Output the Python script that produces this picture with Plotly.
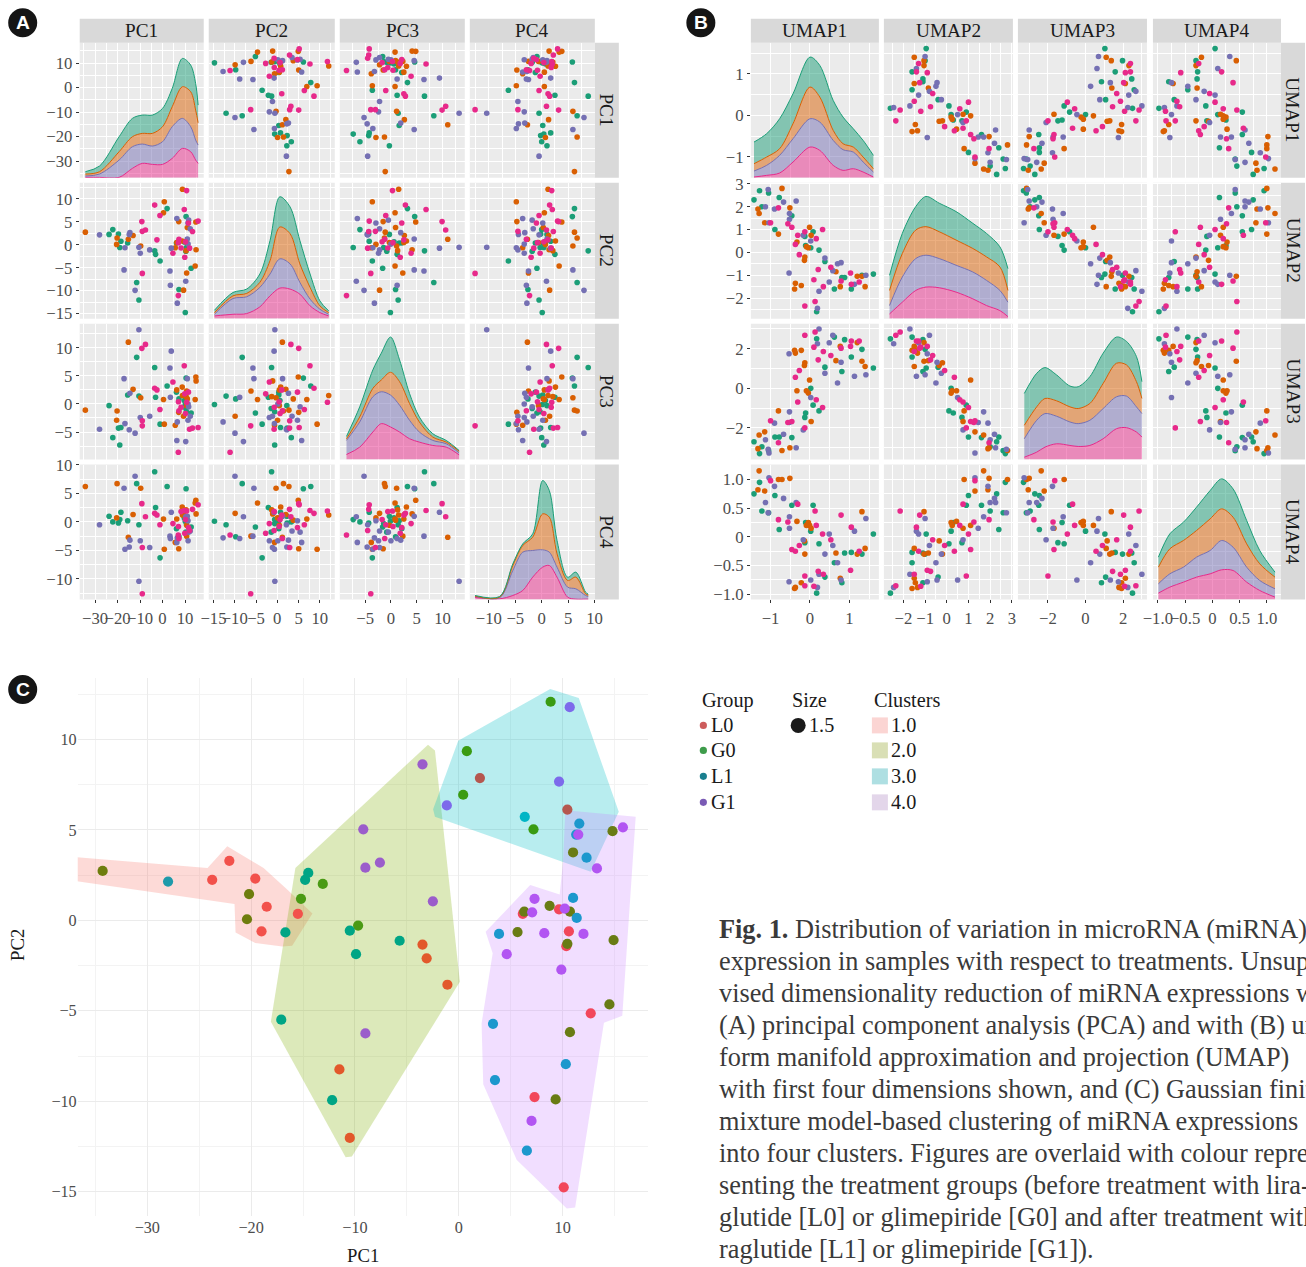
import plotly.graph_objects as go

W, H = 1306, 1267
SERIF = "Liberation Serif"
SANS = "Liberation Sans"

# ---------------- data (samples ordered by group) ----------------
group = [
    "L0", "L0", "L0", "L0", "L0", "L0", "L0", "L0", "L0", "L0",
    "L0", "L0", "L0", "L0", "L0", "L0", "L0", "L0", "L0", "L0",
    "G0", "G0", "G0", "G0", "G0", "G0", "G0", "G0", "G0", "G0",
    "G0", "G0", "G0", "G0", "G0", "G0", "G0", "G0", "G0", "G0", "G0",
    "L1", "L1", "L1", "L1", "L1", "L1", "L1", "L1", "L1", "L1",
    "L1", "L1", "L1", "L1", "L1", "L1", "L1", "L1", "L1", "L1",
    "G1", "G1", "G1", "G1", "G1", "G1", "G1", "G1", "G1", "G1",
    "G1", "G1", "G1", "G1", "G1", "G1", "G1", "G1", "G1", "G1",
]
cluster = [
    1, 1, 1, 1, 1, 1, 2, 2, 2, 2, 2, 3, 3, 4, 4, 4, 4, 4, 4, 4,
    1, 1, 1, 2, 2, 2, 3, 3, 3, 3, 4, 4, 4, 4, 4, 4, 4, 4, 4, 4, 4,
    1, 2, 2, 2, 2, 2, 2, 2, 2, 3, 4, 4, 4, 4, 4, 4, 4, 4, 4, 4,
    2, 2, 2, 2, 2, 2, 3, 3, 3, 4, 4, 4, 4, 4, 4, 4, 4, 4, 4, 4,
]
pc1 = [
    -23.75, -22.1, -19.6, -18.5, -19.0, -15.5, -3.5, -3.1, -1.1, -11.5,
    -10.5, 2.03, 10.45, 6.16, 9.65, 10.6, 10.35, 12.7, 7.29, 10.1,
    -34.3, -20.2, -20.4, -15.2, -13.1, -9.7, 8.84, 0.77, 0.42, 7.19,
    14.8, 11.0, 8.74, 6.3, 10.7, 5.65, 10.45, 14.9, 14.5, 10.7, 9.32,
    -28.0, -16.7, -14.5, -14.8, -17.1, -12.2, -10.5, -9.9, -5.7, 6.35,
    11.6, 11.3, 12.3, 11.0, 11.35, 3.87, 3.29, 10.3, 3.48, 6.55,
    -3.5, -9.2, -9.0, -7.6, -2.5, -9.0, 10.68, -1.16, 9.65, 11.5,
    15.8, 13.3, 7.29, 7.06, 10.2, 8.23, 12.0, 4.61, 9.87, 7.0,
]
pc2 = [
    2.24, 3.29, 2.31, 0.75, -0.61, 0.36, -1.34, -2.10, -3.56, -8.24,
    -12.03, 7.86, 6.12, 0.36, 0.61, -0.61, -1.43, -5.14, -9.77, -14.76,
    2.73, 1.45, 0.06, 1.19, 2.01, -0.29, 12.08, 9.35, 6.94, 5.03,
    4.93, 3.75, 0.80, 0.48, 0.48, -0.65, -1.30, -1.09, -4.65, -6.18, -9.90,
    2.14, -0.67, 2.62, 2.24, -5.49, -9.94, -0.57, -1.87, -1.13, 5.72,
    5.35, 4.74, 3.46, 1.24, 0.13, -0.75, -5.72, -7.95, -8.83, -12.73,
    8.62, 5.03, 2.91, 3.19, 1.05, -6.25, 11.78, 6.35, 7.67, 4.74,
    5.14, 2.87, 1.19, 0.44, 0.65, -0.71, -0.75, -1.87, -2.73, -11.09,
]
pc3 = [
    -0.3, -6.0, -4.3, -4.2, -7.3, 1.6, 6.5, 1.2, -3.6, 8.3,
    1.4, 3.2, 4.6, 2.1, 0.6, -1.4, -0.8, -1.6, 0.9, -0.1,
    -1.1, -1.25, -2.9, 11.0, 2.6, 1.1, 1.5, -3.6, 0.8, -1.5,
    4.8, 0.9, 3.0, 2.5, -0.3, -3.8, 1.3, 4.1, 0.8, 2.3, -2.2,
    -4.5, -3.5, 1.9, -4.6, 4.5, -5.2, 13.2, -2.4, -2.2, -6.5,
    -0.5, -2.9, -2.2, 4.5, 0.0, 9.4, 6.4, -6.7, 1.2, -3.2,
    2.8, 9.9, -3.0, 10.6, 2.5, -3.9, 0.3, -1.0, 6.8, 2.1,
    -4.2, -4.3, -1.2, 0.4, -1.7, -0.6, -4.5, 3.9, 1.8, -8.6,
]
pc4 = [
    1.0, 0.0, -0.2, 1.7, 0.4, 0.2, 8.8, 2.5, -6.3, 6.7,
    -0.5, 6.2, 5.8, -1.2, 0.7, -0.3, -1.8, -0.9, -2.6, 0.1,
    6.2, 6.7, 0.7, -2.7, 1.3, 5.9, 1.2, -4.8, 0.5, -4.7,
    3.8, 0.3, 2.6, 0.5, -0.6, -3.6, 2.1, 1.4, 3.3, -2.5, 1.5,
    -0.5, -4.8, -3.2, -4.4, 5.9, 8.0, -10.4, -3.3, -4.5, -3.6,
    -1.8, 0.2, -1.6, 1.0, -3.3, 1.7, -2.5, 0.9, -2.9, -2.8,
    1.5, 3.2, -4.5, 0.9, 1.2, -12.6, 1.9, -0.5, 2.0, -1.0,
    3.0, 2.2, -2.9, -0.8, 0.4, 1.8, -1.5, -0.3, -2.0, -2.3,
]
umap1 = [
    -1.42, -1.28, -1.22, -1.05, -0.89, -0.78, -0.46, -0.11, -0.13, 0.02,
    0.08, 0.17, 0.38, 0.62, 0.81, 0.88, 1.05, 1.32, 1.61, 0.23,
    -1.32, -1.29, -1.15, -0.71, -0.51, -0.37, -0.39, -0.22, -0.14, -0.13,
    -0.09, -0.04, -0.01, 0.03, 0.77, 1.2, 1.32, 1.4, -0.33, -0.8, 0.66,
    -1.13, -1.06, -1.04, -0.9, -0.67, -0.52, -0.52, -0.35, -0.53, -0.17,
    0.19, 0.23, 0.38, 0.49, 0.58, 0.7, 0.79, 1.13, 1.42, 0.02,
    -1.0, -0.56, -0.46, -0.31, -0.27, -0.13, -0.13, 0.1, 0.13, 0.16,
    0.21, 0.32, 0.34, 0.79, 1.05, 1.03, 1.25, -0.8, 0.53, -0.37,
]
umap2 = [
    2.3, 2.7, 2.0, 2.6, 1.0, 2.4, 1.6, 0.3, 0.7, 0.2,
    0.9, -2.6, -0.4, -1.6, -1.1, -1.1, -1.6, -1.0, -0.95, 0.1,
    1.9, 1.7, 1.3, 2.8, 1.95, -1.35, -1.6, -1.45, -0.35, -0.2,
    0.25, 0.2, 1.1, 0.75, -1.5, -1.05, -1.05, -1.5, 0.45, 0.8, -0.85,
    2.0, 2.75, 1.3, 1.9, 2.2, 1.45, 1.7, 2.25, -0.9, 0.75,
    -2.45, -1.7, -0.25, -1.3, -0.8, -0.5, -0.45, -1.4, -1.0, 0.5,
    1.3, 1.25, 1.1, 0.75, -0.1, 0.9, -2.35, -1.2, -2.15, 0.6,
    -0.75, 1.0, -1.5, -1.25, -1.4, -0.9, -1.3, 1.95, -0.65, 0.35,
]
umap3 = [
    -2.7, -3.3, -2.95, -3.15, -2.46, -2.46, -2.49, -1.25, -1.47, 0.0,
    -0.85, 2.5, 1.07, 2.59, 0.85, 2.46, 1.58, 1.97, 1.03, -1.14,
    -3.05, -2.36, -2.2, -3.14, -3.0, 1.78, 1.92, 1.92, 1.15, 1.29,
    -0.12, -0.24, 0.42, -1.68, 2.12, 2.31, 1.37, 1.1, -0.12, -1.14, 1.4,
    -2.6, -3.08, -3.27, -1.76, -2.32, -1.73, -1.19, -3.0, 1.75, -2.1,
    2.25, 3.0, 0.76, 2.3, 2.68, 0.27, 1.32, 0.61, 0.69, -0.46,
    -1.64, -1.73, -1.68, -0.69, 0.9, -2.0, 2.68, 2.08, 2.85, -0.58,
    1.44, -0.97, 1.86, 2.03, 2.39, 2.12, 2.39, -2.75, 1.66, 0.56,
]
umap4 = [
    0.75, 0.95, 0.45, 0.42, 0.72, 0.13, 0.55, 0.25, -0.1, 0.1,
    0.55, -0.98, -0.7, -0.45, -0.8, -0.28, -0.27, -0.3, 0.05, -0.12,
    0.82, 1.15, 0.8, 1.0, 1.02, -0.88, -0.9, -0.8, -0.07, -0.3,
    0.2, 0.25, 0.2, 0.15, -0.72, -0.3, 0.44, -0.2, 0.27, 1.0, -0.28,
    0.6, 0.42, 1.03, 0.88, 0.67, 0.15, 0.35, 0.6, -0.78, -0.05,
    -0.88, -0.65, -0.3, 0.05, -0.15, -0.45, -0.75, 0.1, 0.32, -0.75,
    0.98, 0.26, -0.22, 0.57, -0.15, -0.68, -0.85, -0.86, 0.45, 0.2,
    -0.6, 0.05, -0.65, 0.38, 0.17, -0.58, -0.25, 0.3, -0.05, -0.25,
]

# stacked density curves (arbitrary units)
dens_PC1_x = [-34.3, -28.0, -19.3, -13.4, -9.0, -4.5, 0.0, 4.3, 8.8, 12.5, 14.7, 15.8]
dens_PC1 = {"G1": [1, 1, 1, 28, 43, 40, 40, 58, 88, 78, 53, 43],
            "L1": [4, 10, 52, 65, 58, 55, 68, 95, 90, 75, 60, 55],
            "G0": [6, 7, 25, 30, 32, 38, 45, 60, 95, 105, 90, 67],
            "L0": [7, 17, 45, 55, 55, 55, 55, 55, 85, 80, 80, 53]}
dens_PC2_x = [-14.76, -10.4, -7.2, -4.1, -1.7, 0.6, 3.0, 5.3, 7.7, 10.0, 12.08]
dens_PC2 = {"G1": [8, 13, 15, 35, 68, 91, 88, 73, 38, 18, 8],
            "L1": [5, 47, 50, 58, 65, 87, 75, 35, 20, 10, 5],
            "G0": [5, 8, 10, 15, 40, 95, 90, 55, 35, 10, 5],
            "L0": [7, 10, 13, 25, 60, 90, 80, 70, 40, 15, 5]}
dens_PC3_x = [-8.6, -6.04, -3.5, -1.86, -0.07, 1.67, 3.6, 5.5, 8.1, 10.7, 13.2]
dens_PC3 = {"G1": [15, 37, 82, 107, 97, 82, 62, 52, 42, 37, 14],
            "L1": [42, 75, 105, 95, 95, 80, 55, 30, 15, 10, 6],
            "G0": [5, 15, 25, 35, 68, 70, 50, 30, 10, 5, 5],
            "L0": [7, 30, 55, 80, 105, 65, 30, 15, 10, 5, 2]}
dens_PC4_x = [-12.6, -7.96, -5.46, -3.58, -1.7, 0.18, 1.44, 2.9, 4.9, 6.46, 8.3, 8.8]
dens_PC4 = {"G1": [6, 2, 12, 27, 67, 97, 102, 67, 7, 1, 1, 1],
            "L1": [3, 3, 75, 115, 80, 52, 40, 30, 30, 31, 11, 8],
            "G0": [1, 2, 15, 20, 40, 108, 105, 40, 20, 35, 5, 4],
            "L0": [2, 2, 5, 5, 10, 100, 80, 40, 10, 15, 5, 3]}
dens_U1_x = [-1.42, -1.1, -0.77, -0.43, 0.0, 0.25, 0.59, 0.84, 1.1, 1.35, 1.61]
dens_U1 = {"G1": [2, 7, 14, 47, 92, 82, 37, 22, 27, 17, 2],
           "L1": [18, 30, 53, 70, 85, 85, 75, 62, 50, 30, 15],
           "G0": [22, 25, 20, 45, 95, 75, 30, 18, 15, 15, 10],
           "L0": [65, 70, 90, 90, 90, 95, 90, 80, 55, 50, 40]}
dens_U2_x = [-2.64, -2.05, -1.43, -0.96, -0.35, 0.43, 1.2, 1.83, 2.45, 2.82]
dens_U2 = {"G1": [14, 49, 84, 94, 92, 79, 59, 39, 24, 6],
           "L1": [25, 75, 95, 95, 87, 80, 80, 75, 60, 43],
           "G0": [45, 70, 85, 85, 80, 75, 70, 70, 70, 35],
           "L0": [45, 60, 70, 90, 85, 85, 75, 70, 60, 65]}
dens_U3_x = [-3.26, -2.6, -2.16, -1.54, -0.83, -0.39, 0.23, 0.94, 1.65, 2.18, 2.71, 3.0]
dens_U3 = {"G1": [7, 22, 37, 47, 42, 39, 42, 62, 92, 95, 82, 67],
           "L1": [55, 95, 100, 82, 70, 68, 75, 90, 95, 94, 75, 70],
           "G0": [40, 40, 45, 46, 45, 45, 50, 75, 100, 93, 75, 45],
           "L0": [95, 100, 92, 77, 62, 65, 80, 90, 78, 70, 75, 50]}
dens_U4_x = [-0.99, -0.78, -0.53, -0.29, -0.04, 0.17, 0.38, 0.63, 0.87, 1.15]
dens_U4 = {"G1": [19, 37, 52, 67, 77, 89, 87, 52, 27, 7],
           "L1": [28, 40, 45, 60, 70, 88, 70, 45, 30, 25],
           "G0": [50, 75, 80, 80, 95, 95, 90, 70, 50, 35],
           "L0": [30, 45, 55, 70, 85, 90, 85, 70, 40, 15]}

# cluster hull outlines (PC1, PC2)
hull1_x = [-38.0, -24.2, -22.3, -18.8, -16.4, -14.1, -16.05, -17.0, -19.6, -21.5, -21.6, -38.0]
hull1_y = [3.55, 2.89, 4.09, 2.89, 1.64, 0.38, -1.40, -1.45, -1.26, -0.67, 0.90, 2.26]
hull2_x = [-15.74, -2.97, -2.3, 0.1, -10.3, -10.9, -18.1]
hull2_y = [2.89, 9.71, 9.39, -3.40, -13.05, -13.1, -5.6]
hull3_x = [-2.48, -0.06, 8.8, 11.55, 15.4, 12.7, 10.1, -2.3]
hull3_y = [6.14, 9.92, 12.79, 12.29, 6.0, 2.68, 3.21, 5.72]
hull4_x = [10.26, 17.03, 15.74, 13.97, 11.2, 10.4, 5.58, 2.35, 2.19, 3.26, 2.58, 6.87, 9.71, 10.03]
hull4_y = [6.08, 5.72, -5.28, -5.66, -15.87, -15.93, -13.25, -9.06, -5.70, -1.82, -0.63, 1.95, 1.43, 3.21]

GROUPS = ["L0", "G0", "L1", "G1"]
PCA_NAMES = ["PC1", "PC2", "PC3", "PC4"]
UMAP_NAMES = ["UMAP1", "UMAP2", "UMAP3", "UMAP4"]
PCA_TICKS = [[-30, -20, -10, 0, 10], [-15, -10, -5, 0, 5, 10], [-5, 0, 5, 10], [-10, -5, 0, 5, 10]]
UMAP_TICKS = [[-1, 0, 1], [-2, -1, 0, 1, 2, 3], [-2, 0, 2], [-1.0, -0.5, 0, 0.5, 1.0]]
UMAP_TICKTEXT = [["−1", "0", "1"], ["−2", "−1", "0", "1", "2", "3"], ["−2", "0", "2"],
                 ["−1.0", "−0.5", "0", "0.5", "1.0"]]

# ---------------- styling ----------------
# the page capture shrinks/offsets the figure slightly; map target pixel positions to paper coords
OX, SX, OY, SY = 10.3, 0.986, 8.2, 0.9895
FS = 1.012


def PX(x):
    return (x - OX) / SX / W


def PY(y):
    return 1 - (y - OY) / SY / H


PCA_RANGES = [[-36.8, 18.3], [-16.1, 13.5], [-9.9, 14.3], [-13.6, 10.05]]
UMAP_RANGES = [[-1.5, 1.75], [-2.9, 3.05], [-3.6, 3.27], [-1.09, 1.26]]
DARK2 = {"L0": "#1B9E77", "G0": "#D95F02", "L1": "#7570B3", "G1": "#E7298A"}
DFILL = {"L0": "rgba(27,158,119,0.5)", "G0": "rgba(217,95,2,0.5)",
         "L1": "rgba(117,112,179,0.5)", "G1": "rgba(231,41,138,0.5)"}
C_COL = {(1, "L0"): "#F2514B", (1, "G0"): "#6E7D0D", (1, "L1"): "#1E9AAA",
         (2, "L0"): "#E2582B", (2, "G0"): "#4A9A14", (2, "L1"): "#00A585", (2, "G1"): "#9B5DCB",
         (3, "L0"): "#B5574F", (3, "G0"): "#3A9B12", (3, "L1"): "#00B5C5", (3, "G1"): "#7D6AEB",
         (4, "L0"): "#F2475B", (4, "G0"): "#697C14", (4, "L1"): "#1C98CD", (4, "G1"): "#B255F2"}
HULL_FILL = ["rgba(248,118,109,0.27)", "rgba(124,174,0,0.27)",
             "rgba(0,191,196,0.28)", "rgba(199,124,255,0.25)"]
ROWS = [(42, 177), (182, 318), (323, 459), (464, 599)]
A_COLS = [(80, 204), (209, 335), (340, 465), (470, 595)]
B_COLS = [(751, 879), (884, 1013), (1018, 1147), (1153, 1281)]
DMAX = 405.0
TICKFONT = dict(family=SERIF, size=16.5 * FS, color="#4D4D4D")


def fmt(v):
    s = ("%g" % v)
    return s.replace("-", "−")


def minor_of(ticks, rng):
    step = ticks[1] - ticks[0]
    cand = [t - step / 2 for t in ticks] + [ticks[-1] + step / 2]
    return [c for c in cand if rng[0] <= c <= rng[1]]


def axkey(k, letter):
    return f"{letter}axis" if k == 1 else f"{letter}axis{k}"


def ref(k, letter):
    return letter if k == 1 else f"{letter}{k}"


def sel(vals, g):
    return [v for v, gg in zip(vals, group) if gg == g]


def rect(x0, y0, x1, y1, color, layer="below"):
    return dict(type="rect", xref="paper", yref="paper", layer=layer,
                x0=PX(x0), x1=PX(x1), y0=PY(y1), y1=PY(y0), fillcolor=color, line=dict(width=0))


def circle(cx, cy, r, color):
    return dict(type="circle", xref="paper", yref="paper",
                x0=PX(cx - r), x1=PX(cx + r), y0=PY(cy + r), y1=PY(cy - r),
                fillcolor=color, line=dict(width=0))


def label(x, y, text, size, color="#1A1A1A", xanchor="center", angle=0, family=SERIF):
    return dict(x=PX(x), y=PY(y), xref="paper", yref="paper", text=text, showarrow=False,
                xanchor=xanchor, yanchor="middle", textangle=angle,
                font=dict(family=family, size=size * FS, color=color))


fig = go.Figure()
layout = {}
shapes = []
annotations = []


def add_matrix(p, cols, variables, names, ranges, ticks, ticktexts, dens, strip_x):
    for i in range(4):
        r0, r1 = ROWS[i]
        for j in range(4):
            c0, c1 = cols[j]
            k = p * 16 + i * 4 + j + 1
            xr, yr = ref(k, "x"), ref(k, "y")
            shapes.append(rect(c0, r0, c1, r1, "#EBEBEB"))
            layout[axkey(k, "x")] = dict(
                domain=[PX(c0), PX(c1)], range=ranges[j], anchor=yr,
                tickmode="array", tickvals=ticks[j], ticktext=ticktexts[j], tickangle=0,
                showticklabels=(i == 3), ticks="outside" if i == 3 else "",
                ticklen=3, tickcolor="#333333", tickfont=TICKFONT,
                showgrid=True, gridcolor="white", gridwidth=1.1,
                minor=dict(tickmode="array", tickvals=minor_of(ticks[j], ranges[j]),
                           showgrid=True, gridcolor="white", gridwidth=0.5, ticks=""),
                zeroline=False, showline=False, fixedrange=True)
            if i == j:
                lo, hi = ranges[i]
                tv = [(v - lo) / (hi - lo) * DMAX for v in ticks[i]]
                mv = [(v - lo) / (hi - lo) * DMAX for v in minor_of(ticks[i], ranges[i])]
                yrng = [0, DMAX]
            else:
                tv, mv, yrng = ticks[i], minor_of(ticks[i], ranges[i]), ranges[i]
            layout[axkey(k, "y")] = dict(
                domain=[PY(r1), PY(r0)], range=yrng, anchor=xr,
                tickmode="array", tickvals=tv, ticktext=ticktexts[i], tickangle=0,
                showticklabels=(j == 0), ticks="outside" if j == 0 else "",
                ticklen=3, tickcolor="#333333", tickfont=TICKFONT,
                showgrid=True, gridcolor="white", gridwidth=1.1,
                minor=dict(tickmode="array", tickvals=mv,
                           showgrid=True, gridcolor="white", gridwidth=0.5, ticks=""),
                zeroline=False, showline=False, fixedrange=True)
            if i == j:
                dx, dy = dens[i]
                for g in ["G1", "L1", "G0", "L0"]:
                    fig.add_trace(go.Scatter(
                        x=dx, y=dy[g], xaxis=xr, yaxis=yr, mode="lines",
                        stackgroup=f"s{k}", line=dict(color=DARK2[g], width=1, shape="spline", smoothing=0.9),
                        fillcolor=DFILL[g], hoverinfo="skip"))
            else:
                for g in GROUPS:
                    fig.add_trace(go.Scatter(
                        x=sel(variables[j], g), y=sel(variables[i], g), xaxis=xr, yaxis=yr,
                        mode="markers", marker=dict(size=5.6, color=DARK2[g]), hoverinfo="skip"))
    # strips
    for j in range(4):
        c0, c1 = cols[j]
        shapes.append(rect(c0, 18, c1, 42, "#D9D9D9"))
        annotations.append(label((c0 + c1) / 2, 30, names[j], 19))
    for i in range(4):
        r0, r1 = ROWS[i]
        shapes.append(rect(strip_x, r0, strip_x + 24, r1, "#D9D9D9"))
        annotations.append(label(strip_x + 12, (r0 + r1) / 2, names[i], 19, angle=90))


pca_tt = [[fmt(v) for v in t] for t in PCA_TICKS]
add_matrix(0, A_COLS, [pc1, pc2, pc3, pc4], PCA_NAMES, PCA_RANGES, PCA_TICKS, pca_tt,
           [(dens_PC1_x, dens_PC1), (dens_PC2_x, dens_PC2), (dens_PC3_x, dens_PC3), (dens_PC4_x, dens_PC4)],
           595)
add_matrix(1, B_COLS, [umap1, umap2, umap3, umap4], UMAP_NAMES, UMAP_RANGES, UMAP_TICKS, UMAP_TICKTEXT,
           [(dens_U1_x, dens_U1), (dens_U2_x, dens_U2), (dens_U3_x, dens_U3), (dens_U4_x, dens_U4)],
           1281)

# ---------------- panel C ----------------
hulls = [(hull1_x, hull1_y), (hull2_x, hull2_y), (hull3_x, hull3_y), (hull4_x, hull4_y)]
for n, (hx, hy) in enumerate(hulls):
    fig.add_trace(go.Scatter(x=hx, y=hy, xaxis="x33", yaxis="y33", mode="lines", fill="toself",
                             fillcolor=HULL_FILL[n], line=dict(width=0), hoverinfo="skip"))
for c in [1, 2, 3, 4]:
    for g in GROUPS:
        xs = [x for x, gg, cc in zip(pc1, group, cluster) if gg == g and cc == c]
        ys = [y for y, gg, cc in zip(pc2, group, cluster) if gg == g and cc == c]
        if xs:
            fig.add_trace(go.Scatter(x=xs, y=ys, xaxis="x33", yaxis="y33", mode="markers",
                                     marker=dict(size=10.2, color=C_COL[(c, g)]), hoverinfo="skip"))

cx_ticks = [-30, -20, -10, 0, 10]
cy_ticks = [-15, -10, -5, 0, 5, 10]
CTICKFONT = dict(family=SERIF, size=16 * FS, color="#4D4D4D")
layout["xaxis33"] = dict(domain=[PX(78), PX(648)], range=[-36.7, 18.2], anchor="y33",
                         tickmode="array", tickvals=cx_ticks, ticktext=[fmt(v) for v in cx_ticks],
                         tickangle=0, tickfont=CTICKFONT, ticks="", showgrid=True, gridcolor="#EBEBEB",
                         gridwidth=1.2,
                         minor=dict(tickmode="array", tickvals=[-35, -25, -15, -5, 5, 15], showgrid=True,
                                    gridcolor="#F3F3F3", gridwidth=0.8, ticks=""),
                         zeroline=False, showline=False, fixedrange=True)
layout["yaxis33"] = dict(domain=[PY(1216), PY(678)], range=[-16.35, 13.37], anchor="x33",
                         tickmode="array", tickvals=cy_ticks, ticktext=[fmt(v) for v in cy_ticks],
                         tickangle=0, tickfont=CTICKFONT, ticks="", showgrid=True, gridcolor="#EBEBEB",
                         gridwidth=1.2,
                         minor=dict(tickmode="array", tickvals=[-12.5, -7.5, -2.5, 2.5, 7.5, 12.5],
                                    showgrid=True, gridcolor="#F3F3F3", gridwidth=0.8, ticks=""),
                         zeroline=False, showline=False, fixedrange=True)
annotations.append(label(363, 1255, "PC1", 18.5))
annotations.append(label(18, 945, "PC2", 18.5, angle=-90))

# ---------------- panel letters ----------------
for lab, cx, cy in [("A", 23, 22), ("B", 701, 22), ("C", 23, 689)]:
    shapes.append(circle(cx, cy, 14.5, "#151515"))
    annotations.append(label(cx, cy, f"<b>{lab}</b>", 19, color="white", family=SANS))

# ---------------- legend for C ----------------
for txt, x in [("Group", 700), ("Size", 790), ("Clusters", 872)]:
    annotations.append(label(x, 700, txt, 20, xanchor="left"))
LEG_GROUP_COL = {"L0": "#CD5C5C", "G0": "#3E9C4B", "L1": "#1A7F8F", "G1": "#7A5BB5"}
leg_rows = [725, 750, 776, 802]
for g, yy in zip(GROUPS, leg_rows):
    shapes.append(circle(703.5, yy, 3.6, LEG_GROUP_COL[g]))
    annotations.append(label(709, yy, g, 20, xanchor="left"))
shapes.append(circle(798.3, 725, 7.5, "#1A1A1A"))
annotations.append(label(807, 725, "1.5", 20, xanchor="left"))
LEG_CL_COL = ["#FBD5D3", "#D9DFB5", "#AEDFE2", "#E3D6EA"]
for n, yy in enumerate(leg_rows):
    shapes.append(rect(872, yy - 8, 888, yy + 8, LEG_CL_COL[n], layer="above"))
    annotations.append(label(889, yy, f"{n + 1}.0", 20, xanchor="left"))

# ---------------- caption ----------------
caption = [
    "<b>Fig. 1.</b> Distribution of variation in microRNA (miRNA)",
    "expression in samples with respect to treatments. Unsuper-",
    "vised dimensionality reduction of miRNA expressions with",
    "(A) principal component analysis (PCA) and with (B) uni-",
    "form manifold approximation and projection (UMAP)",
    "with first four dimensions shown, and (C) Gaussian finite",
    "mixture model-based clustering of miRNA expressions",
    "into four clusters. Figures are overlaid with colour repre-",
    "senting the treatment groups (before treatment with lira-",
    "glutide [L0] or glimepiride [G0] and after treatment with li-",
    "raglutide [L1] or glimepiride [G1]).",
]
for n, line in enumerate(caption):
    annotations.append(label(717, 929 + 32 * n, line, 26, color="#3A3A3A", xanchor="left"))

layout.update(dict(width=W, height=H, margin=dict(l=0, r=0, t=0, b=0),
                   paper_bgcolor="white", plot_bgcolor="rgba(0,0,0,0)", showlegend=False,
                   shapes=shapes, annotations=annotations, font=dict(family=SERIF)))
fig.update_layout(**layout)
fig.write_html(
    "out.html",
    config={"displayModeBar": False},
    post_script=(
        "document.documentElement.style.margin='0px';"
        "document.documentElement.style.padding='0px';"
        "document.body.style.margin='0px';document.body.style.padding='0px';"
        "document.body.style.overflow='hidden';"
    ),
)
